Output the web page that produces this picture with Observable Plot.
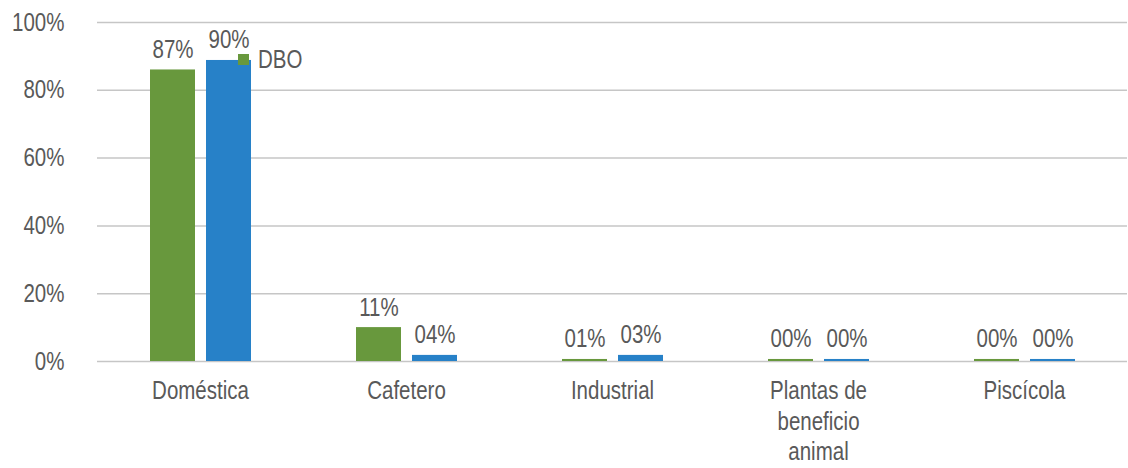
<!DOCTYPE html>
<html>
<head>
<meta charset="utf-8">
<script src="https://cdn.jsdelivr.net/npm/d3@7"></script>
<script src="https://cdn.jsdelivr.net/npm/@observablehq/plot@0.6"></script>
<style>
  html, body { margin: 0; padding: 0; background: #ffffff; }
  #wrap { position: relative; width: 1128px; height: 468px; font-family: "Liberation Sans", Arial, sans-serif; }
  #legend { position: absolute; left: 238px; top: 45px; display: flex; align-items: center; font-size: 25px; color: #595959; }
  #legend .sw { width: 11px; height: 11px; margin-right: 9px; }
  #legend .lt { display: inline-block; transform: scaleX(0.82); transform-origin: left center; }
</style>
</head>
<body>
<div id="wrap"></div>
<script>
// ---- data ----
const categories = ["Doméstica", "Cafetero", "Industrial", "Plantas de beneficio animal", "Piscícola"];
const categoryLabels = ["Doméstica", "Cafetero", "Industrial", "Plantas de\nbeneficio\nanimal", "Piscícola"];
const seriesNames = ["DBO", "SST"];
const seriesColors = ["#68983D", "#2781C8"];
const dboValues = [86.0, 10.0, 0.6, 0.6, 0.6];
const sstValues = [88.8, 1.8, 1.8, 0.6, 0.6];
const dboLabels = ["87%", "11%", "01%", "00%", "00%"];
const sstLabels = ["90%", "04%", "03%", "00%", "00%"];
const yTicks = [0, 20, 40, 60, 80, 100];
const legendNames = ["DBO"];

const data = categories.flatMap((c, i) => [
  {cat: c, series: seriesNames[0], value: dboValues[i], label: dboLabels[i]},
  {cat: c, series: seriesNames[1], value: sstValues[i], label: sstLabels[i]}
]);
const labelOf = new Map(categories.map((c, i) => [c, categoryLabels[i]]));

const chart = Plot.plot({
  width: 1128,
  height: 468,
  marginLeft: 95,
  marginRight: 0,
  marginTop: 22,
  marginBottom: 107,
  style: {fontFamily: '"Liberation Sans", Arial, sans-serif', fontSize: "25px", color: "#595959", background: "#ffffff", overflow: "visible"},
  fx: {domain: categories, padding: 0, label: null, axis: null},
  x: {domain: seriesNames, paddingInner: 0.2, paddingOuter: 0.91, axis: null},
  y: {domain: [0, 100], label: null, axis: null},
  color: {domain: seriesNames, range: seriesColors},
  marks: [
    Plot.gridY({ticks: yTicks.slice(1), stroke: "#c6c6c6", strokeOpacity: 1, strokeWidth: 1.5}),
    Plot.ruleY([0], {stroke: "#c6c6c6", strokeWidth: 1.5}),
    Plot.barY(data, {fx: "cat", x: "series", y: "value", fill: "series"}),
    Plot.text(data, {fx: "cat", x: "series", y: "value", text: "label", lineAnchor: "bottom", dy: -12, fill: "#595959"}),
    Plot.axisY({ticks: yTicks, tickFormat: d => d + "%", tickSize: 0, tickPadding: 33, label: null, fill: "#595959"}),
    Plot.axisFx({anchor: "bottom", tickSize: 0, tickPadding: 16, lineHeight: 1.22, tickFormat: d => labelOf.get(d), label: null, fill: "#595959"})
  ]
});

// condensed look of the original typeface
chart.querySelectorAll("text").forEach(t => {
  const tr = t.getAttribute("transform") || "";
  t.setAttribute("transform", (tr + " scale(0.82,1)").trim());
});

const wrap = document.getElementById("wrap");
wrap.appendChild(chart);

const legend = document.createElement("div");
legend.id = "legend";
legendNames.forEach(name => {
  const sw = document.createElement("span");
  sw.className = "sw";
  sw.style.background = seriesColors[seriesNames.indexOf(name)];
  const t = document.createElement("span");
  t.className = "lt";
  t.textContent = name;
  legend.appendChild(sw);
  legend.appendChild(t);
});
wrap.appendChild(legend);
</script>
</body>
</html>
